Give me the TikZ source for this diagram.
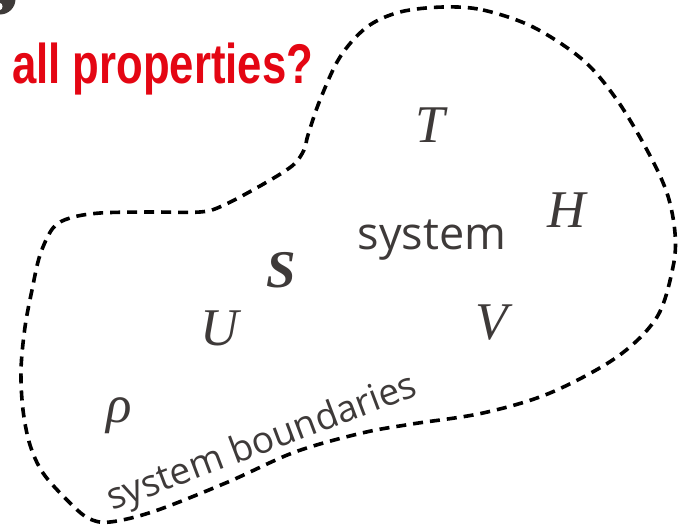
\documentclass[tikz,border=0pt]{standalone}
\usepackage{fontspec}
\setmainfont{Open Sans}
\newfontfamily\redfont{Liberation Sans}
\newfontfamily\letterfont{Liberation Serif}
\definecolor{txtgray}{RGB}{62,58,57}
\definecolor{titlered}{RGB}{228,6,19}
\begin{document}
\begin{tikzpicture}[x=1pt,y=-1pt,
  boundary/.style={line width=3.6pt, dash pattern=on 10pt off 7pt, black},
  lettersty/.style={inner sep=0pt, text=txtgray, font=\letterfont\itshape\fontsize{53}{60}\selectfont},
  label/.style={inner sep=0pt, text=txtgray}]
\useasboundingbox (0,0) rectangle (685,530);
\begin{scope}
\clip (0,0) rectangle (685,530);
\fill[txtgray] (0,-1) circle[radius=15.5];
\fill[white] (0,6.5) ellipse[x radius=2.5, y radius=3.5];
\end{scope}
\draw[boundary] plot[smooth cycle, tension=0.55] coordinates {
 (443,7) (483,10) (533,27) (583,60) (617,100) (647,150) (667,193) (675,233)
 (673,267) (657,317) (617,357) (550,393) (483,413) (412,424) (362,433)
 (295,452) (228,482) (155,511) (110,522) (88,518) (67,500) (43,473)
 (30,445) (23,410) (21,370) (25,327) (32,290) (40,255) (53,228) (70,218)
 (100,213) (150,212) (200,212) (222,206) (260,186) (292,166) (304,150)
 (308,135) (320,100) (340,57) (367,27) (400,12)};
\node[inner sep=0pt, anchor=base west, text=titlered] (title) at (12,83)
  {\scalebox{0.78}[1]{\redfont\bfseries\fontsize{56}{60}\selectfont all properties?}};
\node[label, anchor=base, font=\fontsize{45}{54}\selectfont] (system) at (432,249) {system};
\node[label, anchor=base west, rotate=20.7, font=\fontsize{37}{44}\selectfont] (bound) at (112,511) {system boundaries};
\node[lettersty] (T) at (430,125) {T};
\node[lettersty] (H) at (567,210) {H};
\node[lettersty] (V) at (492,323) {V};
\node[lettersty] (U) at (220,328) {U};
\node[lettersty, font=\letterfont\bfseries\itshape\fontsize{53}{60}\selectfont] (S) at (281,270) {S};
\node[lettersty] (rho) at (119,416) {ρ};
\end{tikzpicture}
\end{document}
